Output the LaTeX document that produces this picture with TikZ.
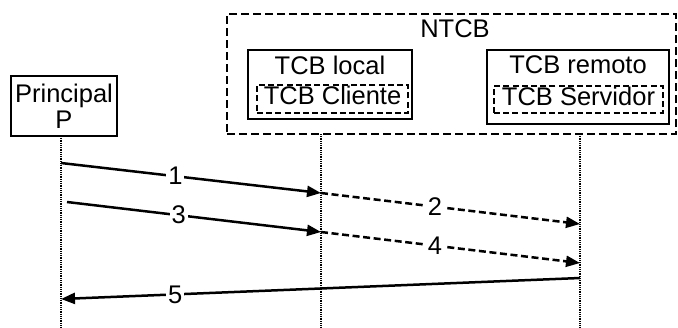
\documentclass[tikz,border=0pt]{standalone}
\usepackage{fontspec}
\setmainfont{Liberation Sans}
\usetikzlibrary{arrows.meta}

\tikzset{
  box/.style={draw,line width=0.6pt,inner sep=0pt},
  subbox/.style={draw,line width=1pt,dash pattern=on 3pt off 1.6pt,inner sep=0pt,text height=5.5pt,text depth=0pt},
  lifeline/.style={line width=1pt,dash pattern=on 0.45pt off 0.45pt},
  msg/.style={line width=1.25pt,-{Triangle[length=7pt,width=5.5pt]}},
  dmsg/.style={msg,dash pattern=on 3.5pt off 1.8pt},
  num/.style={fill=white,inner sep=1pt,pos=0.44}
}

\begin{document}
\begin{tikzpicture}[x=0.5pt,y=-0.5pt,font=\fontsize{12.75}{13}\selectfont]
\useasboundingbox (0,0) rectangle (678,327);
%% principal
\node[box,minimum width=53pt,minimum height=30pt,align=center] (prin) at (64,106) {Principal\\P};
%% NTCB
\node[draw,line width=1.2pt,dash pattern=on 4pt off 2pt,minimum width=224.5pt,minimum height=60pt] (ntcb) at (451.5,74) {};
\node (ntcblbl) at (455,29) {NTCB};
%% TCB local
\node[box,minimum width=82pt,minimum height=34.5pt] (local) at (330,84.5) {};
\node (locallbl) at (330,65) {TCB local};
\node[subbox,minimum width=75.5pt,minimum height=14pt] (cliente) at (332.5,99) {TCB Cliente};
%% TCB remoto
\node[box,minimum width=91pt,minimum height=37pt] (remoto) at (578,87) {};
\node (remotolbl) at (578,65) {TCB remoto};
\node[subbox,minimum width=84.5pt,minimum height=13.5pt] (servidor) at (578.5,99.5) {TCB Servidor};
%% lifelines
\coordinate (p0) at (61,136);  \coordinate (p1) at (61,327);
\coordinate (l0) at (321,134); \coordinate (l1) at (321,327);
\coordinate (r0) at (580,134); \coordinate (r1) at (580,327);
\draw[lifeline] (p0) -- (p1);
\draw[lifeline] (l0) -- (l1);
\draw[lifeline] (r0) -- (r1);
%% message ends
\coordinate (m1a) at (61,163);  \coordinate (m1b) at (321,193);
\coordinate (m2b) at (580,224);
\coordinate (m3a) at (67,202);  \coordinate (m3b) at (321,232);
\coordinate (m4b) at (580,263);
\coordinate (m5a) at (580,278); \coordinate (m5b) at (61,299);
%% messages
\draw[msg] (m1a) -- node[num] (n1) {1} (m1b);
\draw[dmsg] (m1b) -- node[num] (n2) {2} (m2b);
\draw[msg] (m3a) -- node[num] (n3) {3} (m3b);
\draw[dmsg] (m3b) -- node[num] (n4) {4} (m4b);
\draw[msg] (m5a) -- node[num,pos=0.78] (n5) {5} (m5b);
\end{tikzpicture}
\end{document}
